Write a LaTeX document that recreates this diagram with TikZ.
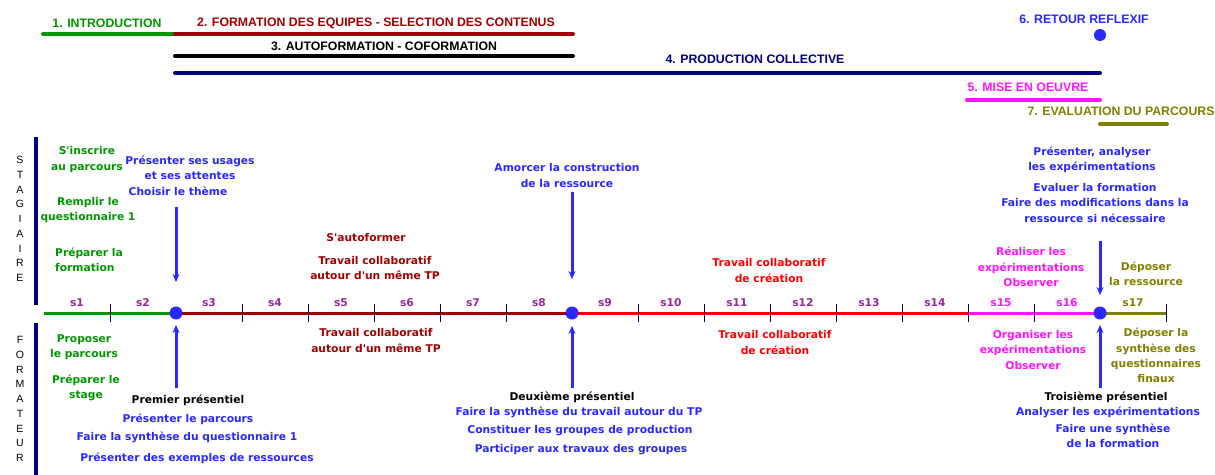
\documentclass[tikz,border=0pt]{standalone}
\usepackage{fontspec}
\setmainfont{DejaVu Sans}
\newfontfamily\titlefont{Liberation Sans}
\usetikzlibrary{calc, arrows.meta}
\definecolor{vert}{RGB}{0,150,0}
\definecolor{rougef}{RGB}{160,0,0}
\definecolor{rouge}{RGB}{255,0,0}
\definecolor{marine}{RGB}{0,0,128}
\definecolor{bleu}{RGB}{40,40,255}
\definecolor{rose}{RGB}{255,20,255}
\definecolor{kaki}{RGB}{128,128,0}
\definecolor{prune}{RGB}{153,40,153}

\begin{document}
\begin{tikzpicture}[x=1pt, y=-1pt,
    lbl/.style={font={\fontsize{10.7}{15.3}\selectfont\bfseries}, align=center, inner sep=0pt},
    titre/.style={font={\titlefont\fontsize{12.3}{14}\selectfont\bfseries}, inner sep=0pt},
    lettre/.style={font={\titlefont\fontsize{10.5}{12}\selectfont}, inner sep=0pt},
    barre/.style={line width=4pt, line cap=round},
    fleche/.style={bleu, line width=3pt, -{Stealth[length=8pt, width=7pt]}}]
    \useasboundingbox (0,0) rectangle (1215,474);
    \def\Y{313}
    \def\pas{66}

    % phases
    \node[titre, text=vert] (intro) at (107,23) {1. INTRODUCTION};
    \node[titre, text=rougef] (equipes) at (376,23) {2. FORMATION DES EQUIPES - SELECTION DES CONTENUS};
    \node[titre] (autof) at (384,46) {3. AUTOFORMATION - COFORMATION};
    \node[titre, text=marine] (prod) at (755,59) {4. PRODUCTION COLLECTIVE};
    \node[titre, text=rose] (mise) at (1028,87) {5. MISE EN OEUVRE};
    \node[titre, text=bleu] (retour) at (1084,19) {6. RETOUR REFLEXIF};
    \node[titre, text=kaki] (eval) at (1121,111) {7. EVALUATION DU PARCOURS};

    \draw[barre, vert] (43,34) -- (175,34);
    \draw[barre, rougef] (175,34) -- (573,34);
    \draw[barre, black] (175,56) -- (573,56);
    \draw[barre, marine] (175,73) -- (1100,73);
    \draw[barre, rose] (967,100) -- (1100,100);
    \draw[barre, kaki] (1100,124) -- (1167,124);
    \fill[bleu] (1100,35) circle (6);

    % acteurs
    \draw[marine, line width=4pt] (36,137) -- (36,305);
    \draw[marine, line width=4pt] (36,323) -- (36,480);
    \foreach \c [count=\k from 0] in {S,T,A,G,I,A,I,R,E}
        \node[lettre] (st\k) at (20,{160+14.75*\k}) {\c};
    \foreach \c [count=\k from 0] in {F,O,R,M,A,T,E,U,R}
        \node[lettre] (fo\k) at (20,{340+14.75*\k}) {\c};

    % axe des semaines
    \foreach \i in {0,...,17}
        \coordinate (t\i) at ({44+\pas*\i},\Y);
    \draw[vert, line width=3pt] (t0) -- (t2);
    \draw[rougef, line width=3pt] (t2) -- (t8);
    \draw[rouge, line width=3pt] (t8) -- (t14);
    \draw[rose, line width=3pt] (t14) -- (t16);
    \draw[kaki, line width=3pt] (t16) -- (t17);
    \foreach \i in {1,3,4,5,6,7,9,10,11,12,13,14,15,17}
        \draw[marine, line width=1pt] ($(t\i)+(0,-9)$) -- ($(t\i)+(0,9)$);
    \foreach \i in {1,...,14}
        \node[lbl, text=prune] (s\i) at ({11+\pas*\i},303) {s\i};
    \foreach \i in {15,16}
        \node[lbl, text=rose] (s\i) at ({11+\pas*\i},303) {s\i};
    \node[lbl, text=kaki] (s17) at ({11+\pas*17},303) {s17};
    \fill[bleu] (t2) circle (6.5);
    \fill[bleu] (t8) circle (6.5);
    \fill[bleu] (t16) circle (6.5);

    % presentiels
    \coordinate (h1a) at (176,207);
    \coordinate (h1b) at (176,282);
    \coordinate (b1a) at (176,388);
    \coordinate (b1b) at (176,325);
    \coordinate (h2a) at (572,192);
    \coordinate (h2b) at (572,279);
    \coordinate (b2a) at (572,388);
    \coordinate (b2b) at (572,326);
    \coordinate (h3a) at (1100,241);
    \coordinate (h3b) at (1100,295);
    \coordinate (b3a) at (1100,388);
    \coordinate (b3b) at (1100,325);
    \draw[fleche] (h1a) -- (h1b);
    \draw[fleche] (b1a) -- (b1b);
    \draw[fleche] (h2a) -- (h2b);
    \draw[fleche] (b2a) -- (b2b);
    \draw[fleche] (h3a) -- (h3b);
    \draw[fleche] (b3a) -- (b3b);

    % stagiaire
    \node[lbl, text=vert] (inscr) at (87,159.5) {S\textquotesingle inscrire\\au parcours};
    \node[lbl, text=vert] (quest) at (88,210) {Remplir le\\questionnaire 1};
    \node[lbl, text=vert, align=left, anchor=west] (prepf) at (55,259.5) {Préparer la\\formation};
    \node[lbl, text=bleu] (usages) at (190,167.5) {Présenter ses usages\\et ses attentes};
    \node[lbl, text=bleu] (theme) at (178,191) {Choisir le thème};
    \node[lbl, text=rougef] (autoform) at (366,238) {S\textquotesingle autoformer};
    \node[lbl, text=rougef] (tp1) at (375,268) {Travail collaboratif\\autour d\textquotesingle un même TP};
    \node[lbl, text=bleu] (amorce) at (567,175.5) {Amorcer la construction\\de la ressource};
    \node[lbl, text=rouge] (crea1) at (769,270.5) {Travail collaboratif\\de création};
    \node[lbl, text=rose] (exp1) at (1031,267) {Réaliser les\\expérimentations\\Observer};
    \node[lbl, text=bleu] (analy) at (1092,160) {Présenter, analyser\\les expérimentations};
    \node[lbl, text=bleu] (evalf) at (1095,203) {Evaluer la formation\\Faire des modifications dans la\\ressource si nécessaire};
    \node[lbl, text=kaki] (depo1) at (1146,273.5) {Déposer\\la ressource};

    % formateur
    \node[lbl, text=vert] (propo) at (84,347) {Proposer\\le parcours};
    \node[lbl, text=vert] (preps) at (86,388) {Préparer le\\stage};
    \node[lbl, text=rougef] (tp2) at (376,340.5) {Travail collaboratif\\autour d\textquotesingle un même TP};
    \node[lbl, text=rouge] (crea2) at (775,342.5) {Travail collaboratif\\de création};
    \node[lbl, text=rose] (exp2) at (1033,350) {Organiser les\\expérimentations\\Observer};
    \node[lbl, text=kaki] (depo2) at (1156,355.5) {Déposer la\\synthèse des\\questionnaires\\finaux};

    \node[lbl] (pres1) at (188,400) {Premier présentiel};
    \node[lbl, text=bleu] (pres1a) at (188,419) {Présenter le parcours};
    \node[lbl, text=bleu] (pres1b) at (187,437) {Faire la synthèse du questionnaire 1};
    \node[lbl, text=bleu] (pres1c) at (197,458) {Présenter des exemples de ressources};
    \node[lbl] (pres2) at (572,397) {Deuxième présentiel};
    \node[lbl, text=bleu] (pres2a) at (579,412) {Faire la synthèse du travail autour du TP};
    \node[lbl, text=bleu] (pres2b) at (580,431) {Constituer les groupes de production};
    \node[lbl, text=bleu] (pres2c) at (581,450) {Participer aux travaux des groupes};
    \node[lbl] (pres3) at (1106,397) {Troisième présentiel};
    \node[lbl, text=bleu] (pres3a) at (1108,412) {Analyser les expérimentations};
    \node[lbl, text=bleu] (pres3b) at (1113,435.5) {Faire une synthèse\\de la formation};
\end{tikzpicture}
\end{document}
